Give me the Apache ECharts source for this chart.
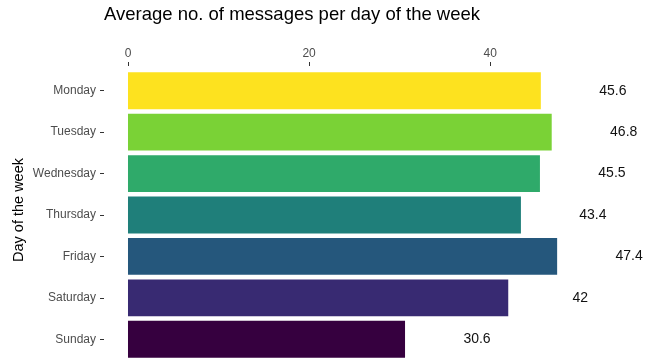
<!DOCTYPE html>
<html>
<head>
<meta charset="utf-8">
<style>html,body{margin:0;padding:0;background:#fff;}#c{width:655px;height:364px;}</style>
<script src="https://cdn.jsdelivr.net/npm/echarts@6/dist/echarts.min.js"></script>
</head>
<body>
<div id="c"></div>
<script>
const days = ['Monday','Tuesday','Wednesday','Thursday','Friday','Saturday','Sunday'];
const avgMessages = [45.6, 46.8, 45.5, 43.4, 47.4, 42, 30.6];
const dayColors = ['#FDE21F','#7AD236','#2FAA6A','#1F7F7A','#25577C','#382A72','#36003F'];
const xTicks = [0, 20, 40];

const chart = echarts.init(document.getElementById('c'), null, {renderer:'canvas'});
chart.setOption({
  animation: false,
  backgroundColor: '#ffffff',
  title: {
    text: 'Average no. of messages per day of the week',
    left: 99, top: 0,
    textStyle: {fontFamily: 'Liberation Sans, Arial, sans-serif', fontSize: 18.5, fontWeight: 'normal', color: '#000'}
  },
  grid: {left: 104, right: 20, top: 70, bottom: 4, containLabel: false, outerBoundsMode: 'none'},
  xAxis: {
    type: 'value', position: 'top', min: -2.65, max: 56, offset: 4,
    axisLine: {show: false},
    axisTick: {show: true, length: 4, customValues: xTicks, lineStyle: {color: '#333', width: 1}},
    splitLine: {show: false},
    axisLabel: {
      color: '#4d4d4d', fontSize: 12, margin: 6, fontFamily: 'Liberation Sans, Arial, sans-serif',
      customValues: xTicks
    }
  },
  yAxis: {
    type: 'category', data: days, inverse: true,
    axisLine: {show: false, onZero: false},
    axisTick: {show: true, alignWithLabel: true, length: 4, lineStyle: {color: '#333', width: 1}},
    axisLabel: {color: '#4d4d4d', fontSize: 12, margin: 8, fontFamily: 'Liberation Sans, Arial, sans-serif'}
  },
  graphic: [{
    type: 'text', x: 19, y: 210, rotation: Math.PI / 2,
    style: {text: 'Day of the week', fill: '#000', font: '14.5px "Liberation Sans", Arial, sans-serif', textAlign: 'center', textVerticalAlign: 'middle'}
  }],
  series: [{
    type: 'bar',
    data: avgMessages.map((v, i) => ({value: v, itemStyle: {color: dayColors[i]}})),
    barWidth: '89%',
    label: {
      show: true, position: 'right', distance: 72, align: 'center',
      color: '#111', fontSize: 14, fontFamily: 'Liberation Sans, Arial, sans-serif',
      formatter: p => String(p.value)
    }
  }]
});
</script>
</body>
</html>
